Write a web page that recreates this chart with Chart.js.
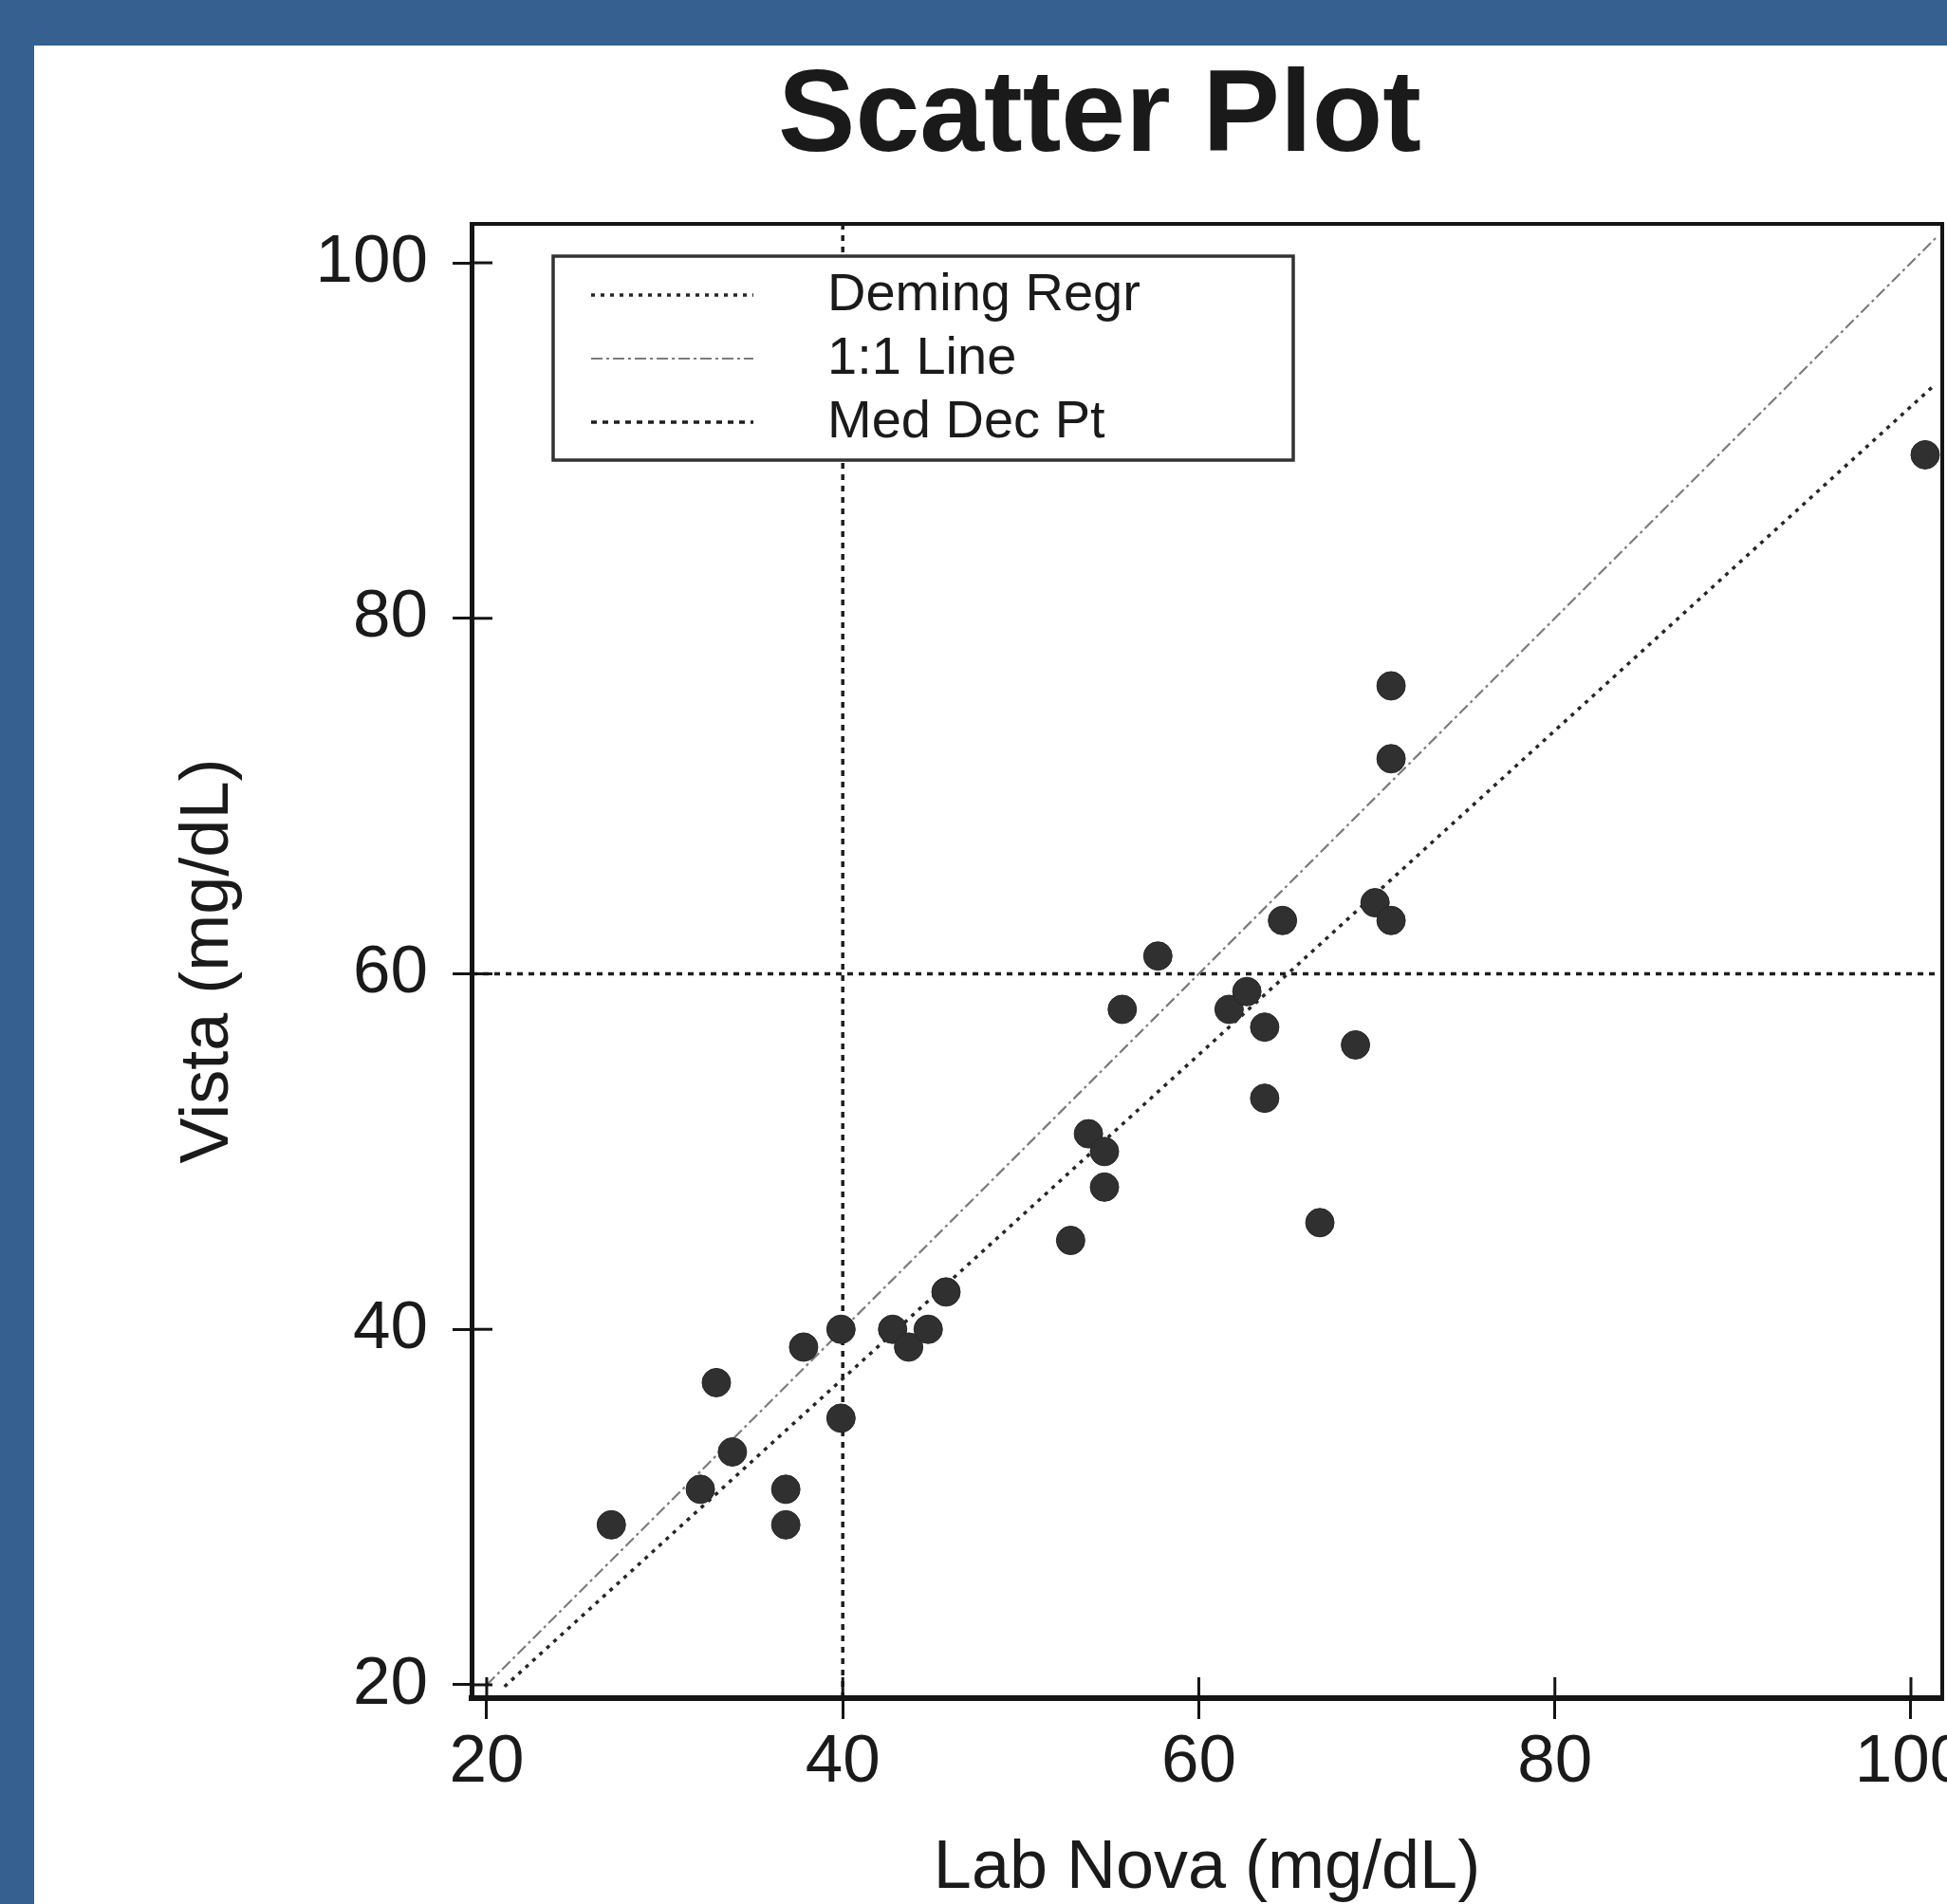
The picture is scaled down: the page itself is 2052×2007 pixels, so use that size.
<!DOCTYPE html>
<html>
<head>
<meta charset="utf-8">
<script src="https://cdn.jsdelivr.net/npm/chart.js@4.4.1/dist/chart.umd.min.js"></script>
<style>
  html, body { margin: 0; padding: 0; }
  body { width: 2052px; height: 2007px; background: #36608f; position: relative; overflow: hidden; }
  #panel { position: absolute; left: 36px; top: 48px; right: 0; bottom: 0; background: #ffffff; overflow: hidden; }
  #wrap { position: absolute; left: 0; top: 0; width: 2071px; height: 2019px; }
</style>
</head>
<body>
<div id="panel"><div id="wrap"><canvas id="c" width="2071" height="2019"></canvas></div></div>
<script>
// ---- data ----
const titleText = 'Scatter Plot';
const xTitle = 'Lab Nova (mg/dL)';
const yTitle = 'Vista (mg/dL)';
const legendLabels = ['Deming Regr', '1:1 Line', 'Med Dec Pt'];

const labNova = [27.0, 32.0, 32.9, 33.8, 36.8, 36.8, 37.8, 39.9, 39.9, 42.8, 43.7, 44.8, 45.8,
                 52.8, 53.8, 54.7, 54.7, 55.7, 57.7, 61.7, 62.7, 63.7, 63.7, 64.7, 66.8, 68.8,
                 69.9, 70.8, 70.8, 70.8, 100.8];
const vista   = [29.0, 31.0, 37.0, 33.1, 31.0, 29.0, 39.0, 40.0, 35.0, 40.0, 39.0, 40.0, 42.1,
                 45.0, 51.0, 50.0, 48.0, 58.0, 61.0, 58.0, 59.0, 57.0, 53.0, 63.0, 46.0, 56.0,
                 64.0, 63.0, 72.1, 76.2, 89.2];

const demingX = [21.0, 101.3];
const demingY = [19.9, 93.1];
const oneToOneX = [20.0, 101.5];
const oneToOneY = [20.0, 101.5];
const medDecX = 40;
const medDecY = 60;

const xTicks = [20, 40, 60, 80, 100];
const yTicks = [20, 40, 60, 80, 100];
const xRange = [19.15, 101.76];
const yRange = [19.25, 102.19];

// ---- build ----
const FONT = "'Liberation Sans', Arial, Helvetica, sans-serif";
const INK = '#1a1a1a';
const toPts = (xs, ys) => xs.map((x, i) => ({ x: x, y: ys[i] }));

const pointsDs = {
  label: 'data', data: toPts(labNova, vista),
  pointRadius: 15, pointBackgroundColor: '#303030', pointBorderColor: '#262626', pointBorderWidth: 1,
  showLine: false
};
const demingDs = {
  label: legendLabels[0], data: toPts(demingX, demingY), showLine: true, pointRadius: 0,
  borderColor: '#262626', borderWidth: 3.5, borderDash: [4, 6]
};
const oneDs = {
  label: legendLabels[1], data: toPts(oneToOneX, oneToOneY), showLine: true, pointRadius: 0,
  borderColor: '#7c7c7c', borderWidth: 2.2, borderDash: [12, 4, 3, 4]
};
const medHDs = {
  label: legendLabels[2], data: [{ x: xRange[0], y: medDecY }, { x: xRange[1], y: medDecY }],
  showLine: true, pointRadius: 0, borderColor: '#1e1e1e', borderWidth: 3.5, borderDash: [6, 6]
};
const medVDs = {
  label: legendLabels[2], data: [{ x: medDecX, y: yRange[0] }, { x: medDecX, y: yRange[1] }],
  showLine: true, pointRadius: 0, borderColor: '#1e1e1e', borderWidth: 3.5, borderDash: [6, 6]
};

const decor = {
  id: 'decor',
  afterDatasetsDraw(chart) {
    const { ctx, chartArea: a, scales } = chart;
    const xs = scales.x, ys = scales.y;
    ctx.save();
    ctx.strokeStyle = '#141414';
    ctx.setLineDash([]);
    // top and right frame of the plot area
    ctx.lineWidth = 4;
    ctx.beginPath();
    ctx.moveTo(a.left, a.top); ctx.lineTo(a.right, a.top); ctx.lineTo(a.right, a.bottom);
    ctx.stroke();
    // inner halves of the tick marks
    ctx.lineWidth = 3;
    xs.ticks.forEach(t => {
      const px = xs.getPixelForValue(t.value);
      ctx.beginPath(); ctx.moveTo(px, a.bottom); ctx.lineTo(px, a.bottom - 22); ctx.stroke();
    });
    ys.ticks.forEach(t => {
      const py = ys.getPixelForValue(t.value);
      ctx.beginPath(); ctx.moveTo(a.left, py); ctx.lineTo(a.left + 22, py); ctx.stroke();
    });
    // legend box
    const bx = a.left + 86, by = a.top + 34, bw = 780, bh = 215;
    ctx.fillStyle = '#ffffff';
    ctx.fillRect(bx, by, bw, bh);
    ctx.lineWidth = 3.5;
    ctx.strokeStyle = '#333333';
    ctx.strokeRect(bx, by, bw, bh);
    const rows = [41, 108, 175];
    const legendSets = [demingDs, oneDs, medHDs];
    ctx.font = '56px ' + FONT;
    ctx.textBaseline = 'middle';
    ctx.textAlign = 'left';
    legendSets.forEach((ds, i) => {
      const yy = by + rows[i];
      ctx.save();
      ctx.strokeStyle = ds.borderColor;
      ctx.lineWidth = ds.borderWidth;
      ctx.setLineDash(ds.borderDash);
      ctx.beginPath(); ctx.moveTo(bx + 40, yy); ctx.lineTo(bx + 211, yy); ctx.stroke();
      ctx.restore();
      ctx.fillStyle = INK;
      ctx.fillText(ds.label, bx + 289, yy + 1);
    });
    ctx.restore();
  }
};

new Chart(document.getElementById('c'), {
  type: 'scatter',
  data: { datasets: [pointsDs, demingDs, oneDs, medHDs, medVDs] },
  options: {
    responsive: false,
    animation: false,
    devicePixelRatio: 1,
    events: [],
    layout: { padding: { left: 235, right: 60, top: 0, bottom: 0 } },
    plugins: {
      legend: { display: false },
      tooltip: { enabled: false },
      title: {
        display: true, text: titleText, color: INK,
        font: { family: FONT, size: 122, weight: 'bold', lineHeight: 1.2 },
        padding: { top: 4, bottom: 37.6 }
      }
    },
    scales: {
      x: {
        type: 'linear', position: 'bottom', min: xRange[0], max: xRange[1],
        afterFit: s => { s.height = 277; },
        afterBuildTicks: s => { s.ticks = xTicks.map(v => ({ value: v })); },
        ticks: { stepSize: 20, includeBounds: false, autoSkip: false, maxRotation: 0, color: INK,
                 font: { family: FONT, size: 71 }, padding: 4 },
        grid: { display: true, drawOnChartArea: false, drawTicks: true, tickLength: 22, color: '#141414', lineWidth: 3 },
        border: { display: true, color: '#141414', width: 6 },
        title: { display: true, text: xTitle, color: INK, font: { family: FONT, size: 72, lineHeight: 1.2 },
                 padding: { top: 0, bottom: 53.8 } }
      },
      y: {
        type: 'linear', position: 'left', min: yRange[0], max: yRange[1],
        afterFit: s => { s.width = 226; },
        afterBuildTicks: s => { s.ticks = yTicks.map(v => ({ value: v })); },
        ticks: { stepSize: 20, includeBounds: false, autoSkip: false, color: INK,
                 font: { family: FONT, size: 71 }, padding: 26 },
        grid: { display: true, drawOnChartArea: false, drawTicks: true, tickLength: 20, color: '#141414', lineWidth: 3 },
        border: { display: true, color: '#141414', width: 5 },
        title: { display: true, text: yTitle, color: INK, font: { family: FONT, size: 72, lineHeight: 1.2 },
                 padding: { top: -94.2, bottom: 0 } }
      }
    }
  },
  plugins: [decor]
});
</script>
</body>
</html>
